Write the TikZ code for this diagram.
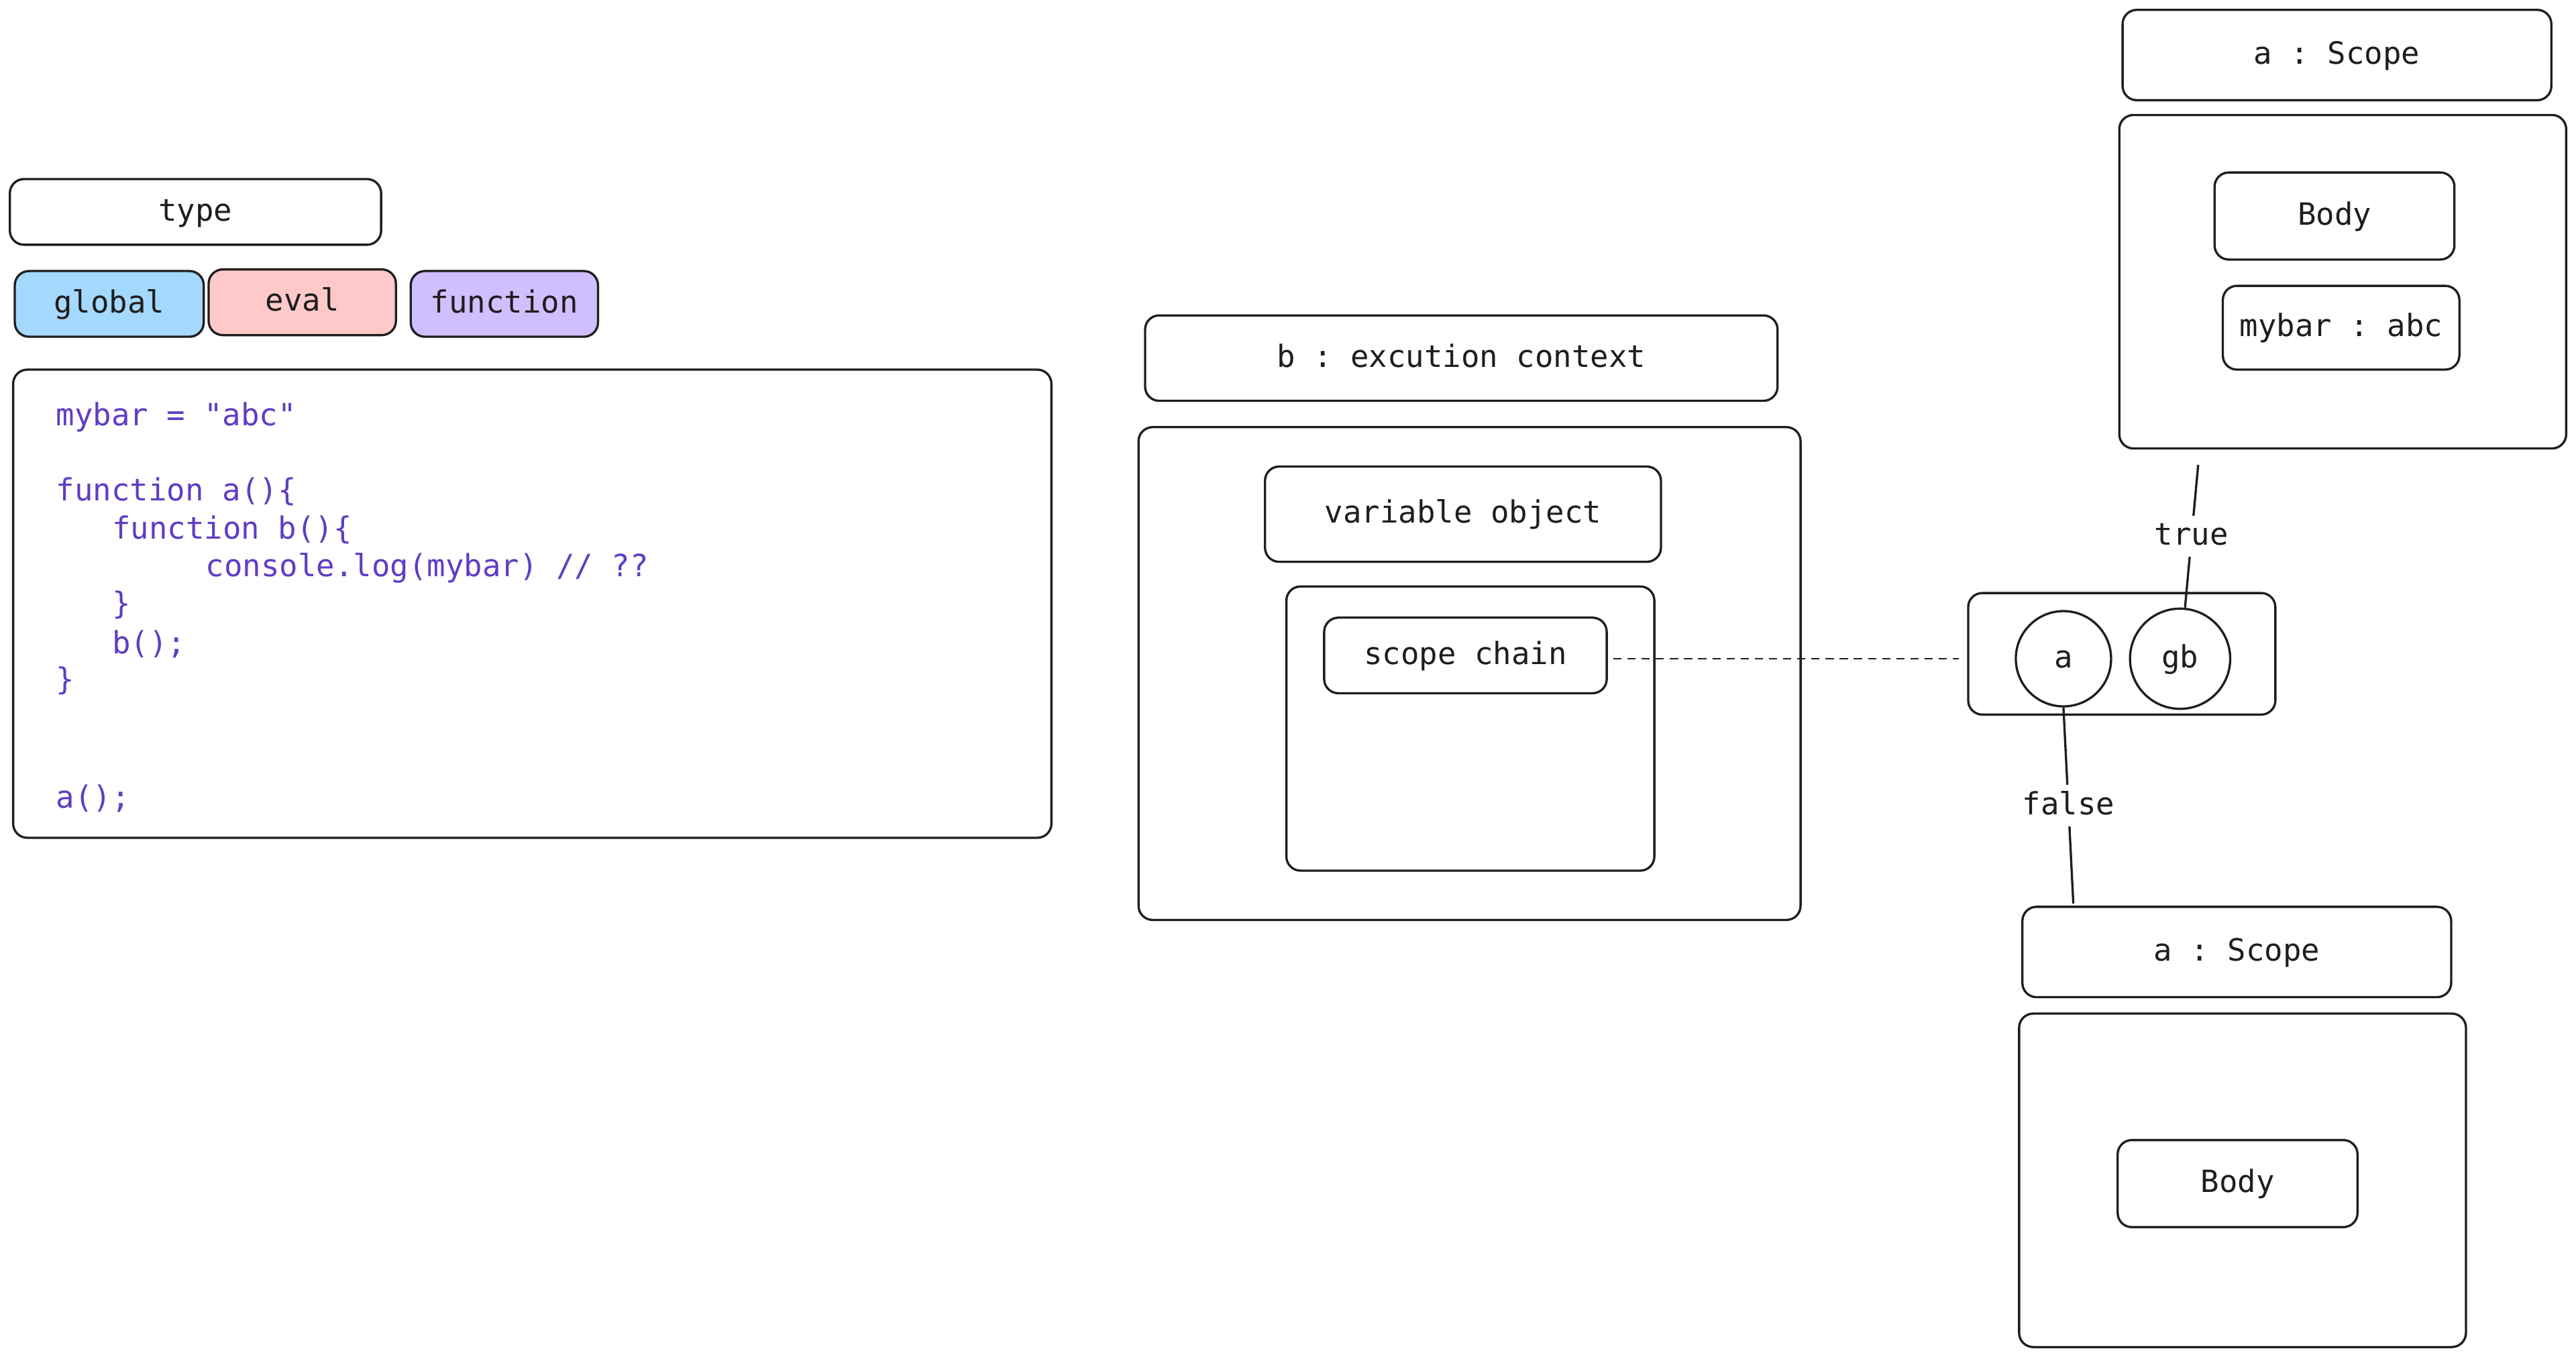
\documentclass[tikz,border=0pt]{standalone}
\usepackage{fontspec}
\setmonofont{DejaVu Sans Mono}
\usetikzlibrary{calc}
\definecolor{ink}{HTML}{1E1E1E}
\definecolor{codecol}{HTML}{5F3DC4}
\definecolor{cglobal}{HTML}{A5D8FF}
\definecolor{ceval}{HTML}{FFC9C9}
\definecolor{cfunc}{HTML}{D0BFFF}
\newcommand\rbox[7]{\node[rbox,#1,minimum width={(#5-#3)*0.6968pt},minimum height={(#6-#4)*0.6968pt}] (#2) at ({(#3+#5)/2},{(#4+#6)/2}) {#7};}
\tikzset{
  rbox/.style={draw=ink, line width=0.95pt, rounded corners=6pt, inner sep=0pt, outer sep=0pt, text=ink, text height=10.5pt, text depth=3pt, font=\ttfamily\fontsize{13}{16}\selectfont},
  codeline/.style={anchor=base west, inner sep=0pt, text=codecol, font=\ttfamily\fontsize{13}{16}\selectfont},
  lbl/.style={fill=white, inner sep=2pt, text=ink, text height=10.5pt, text depth=3pt, font=\ttfamily\fontsize{13}{16}\selectfont},
  conn/.style={draw=ink, line width=0.95pt},
  dashline/.style={draw=ink, line width=0.75pt, dash pattern=on 3.5pt off 2.5pt},
  circ/.style={circle, draw=ink, line width=0.95pt, inner sep=0pt, text=ink, text height=10.5pt, text depth=3pt, font=\ttfamily\fontsize{13}{16}\selectfont}
}
\begin{document}
\begin{tikzpicture}[x=0.02449cm, y=-0.02449cm]
\useasboundingbox (0,0) rectangle (1568,826);
% type legend
\rbox{}{type}{6}{109}{232}{149}{type}
\rbox{fill=cglobal}{tglobal}{9}{165}{124}{205}{global}
\rbox{fill=ceval}{teval}{127}{164}{241}{204}{eval}
\rbox{fill=cfunc}{tfunc}{250}{165}{364}{205}{function}
% code
\rbox{}{code}{8}{225}{640}{510}{}
\node[codeline] (l1) at (34,259) {mybar = "abc"};
\node[codeline] (l2) at (34,305) {function a()\{};
\node[codeline] (l3) at (68,328) {function b()\{};
\node[codeline] (l4) at (125,351) {console.log(mybar) // ??};
\node[codeline] (l5) at (68,374) {\}};
\node[codeline] (l6) at (68,398) {b();};
\node[codeline] (l7) at (34,420) {\}};
\node[codeline] (l8) at (34,492) {a();};
% execution context
\rbox{}{ectitle}{697}{192}{1082}{244}{b : excution context}
\rbox{}{ecbox}{693}{260}{1096}{560}{}
\rbox{}{vo}{770}{284}{1011}{342}{variable object}
\rbox{}{scbox}{783}{357}{1007}{530}{}
\rbox{}{sc}{806}{376}{978}{422}{scope chain}
% chain
\rbox{}{chain}{1198}{361}{1385}{435}{}
\node[circ, minimum size={58*0.6968pt}] (ca) at (1256,401) {a};
\node[circ, minimum size={61*0.6968pt}] (cgb) at (1327,401) {gb};
\coordinate (dstart) at ($(sc.east)+(4,2)$);
\draw[dashline] (dstart) -- ([xshift=-4pt]chain.west |- dstart);
% top scope
\rbox{}{tscope}{1292}{6}{1553}{61}{a : Scope}
\rbox{}{tbox}{1290}{70}{1562}{273}{}
\rbox{}{tbody}{1348}{105}{1494}{158}{Body}
\rbox{}{tmybar}{1353}{174}{1497}{225}{mybar : abc}
% bottom scope
\rbox{}{bscope}{1231}{552}{1492}{607}{a : Scope}
\rbox{}{bbox}{1229}{617}{1501}{820}{}
\rbox{}{bbody}{1289}{694}{1435}{747}{Body}
% connectors
\coordinate (tend) at (1338,283);
\draw[conn] (cgb.north) ++(3,0) -- (tend) node[lbl, pos=0.5] (ltrue) {true};
\coordinate (fend) at (1262,550);
\draw[conn] (ca.south) -- (fend) node[lbl, pos=0.5] (lfalse) {false};
\end{tikzpicture}
\end{document}
